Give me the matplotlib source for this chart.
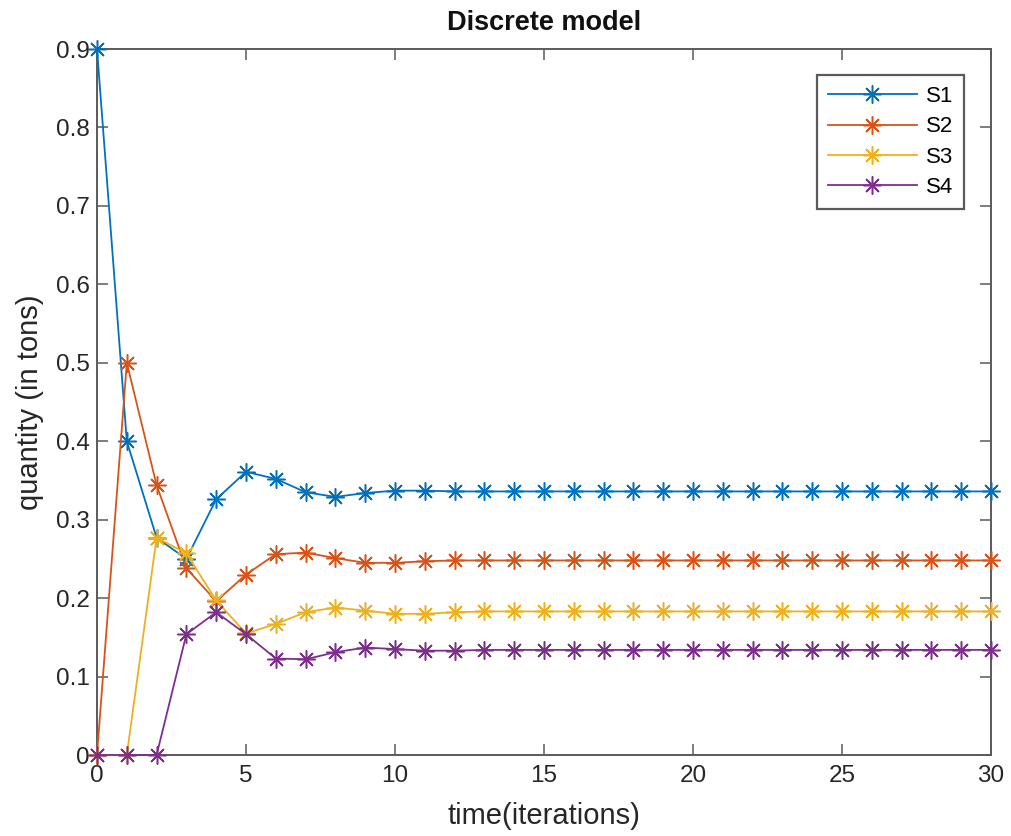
import numpy as np
import matplotlib
matplotlib.use('Agg')
from matplotlib import pyplot as plt

# iterations 0..30
t = list(range(31))

s1 = [0.900, 0.400, 0.277, 0.250, 0.326, 0.361, 0.352, 0.335, 0.329, 0.334, 0.337,
      0.337, 0.336, 0.336, 0.336, 0.336, 0.336, 0.336, 0.336, 0.336, 0.336,
      0.336, 0.336, 0.336, 0.336, 0.336, 0.336, 0.336, 0.336, 0.336, 0.336]
s2 = [0.000, 0.500, 0.344, 0.238, 0.196, 0.230, 0.256, 0.258, 0.251, 0.245, 0.245,
      0.247, 0.248, 0.248, 0.248, 0.248, 0.248, 0.248, 0.248, 0.248, 0.248,
      0.248, 0.248, 0.248, 0.248, 0.248, 0.248, 0.248, 0.248, 0.248, 0.248]
s3 = [0.000, 0.000, 0.277, 0.257, 0.197, 0.155, 0.167, 0.182, 0.188, 0.184, 0.180,
      0.180, 0.182, 0.183, 0.183, 0.183, 0.183, 0.183, 0.183, 0.183, 0.183,
      0.183, 0.183, 0.183, 0.183, 0.183, 0.183, 0.183, 0.183, 0.183, 0.183]
s4 = [0.000, 0.000, 0.000, 0.154, 0.182, 0.154, 0.123, 0.122, 0.131, 0.137, 0.135,
      0.133, 0.133, 0.134, 0.134, 0.134, 0.134, 0.134, 0.134, 0.134, 0.134,
      0.134, 0.134, 0.134, 0.134, 0.134, 0.134, 0.134, 0.134, 0.134, 0.134]

names = ['S1', 'S2', 'S3', 'S4']
colors = ['#0072BD', '#D95319', '#EDB120', '#7E2F8E']
yticklabels = ['0', '0.1', '0.2', '0.3', '0.4', '0.5', '0.6', '0.7', '0.8', '0.9']

plt.rcParams['font.family'] = ['Liberation Sans', 'DejaVu Sans']

fig = plt.figure(figsize=(10.11, 8.36), dpi=100)
ax = fig.add_axes([97/1011, 1 - 755/836, (991 - 97)/1011, (755 - 49)/836])

# matlab style asterisk: 4 strokes through the centre
star = (8, 2, 0)
for ys, name, c in zip([s1, s2, s3, s4], names, colors):
    ax.plot(t, ys, color=c, lw=1.3, marker=star, markersize=13,
            markeredgewidth=1.1, label=name, clip_on=False, zorder=3)

ax.set_xlim(0, 30)
ax.set_ylim(0, 0.9)
ax.set_xticks([0, 5, 10, 15, 20, 25, 30])
ax.set_yticks(np.arange(0, 0.91, 0.1))
ax.set_yticklabels(yticklabels)

axcol = '#5a5a5a'
for sp in ax.spines.values():
    sp.set_color(axcol)
    sp.set_linewidth(1.4)
ax.tick_params(direction='in', top=True, right=True, length=8, width=1.1,
               color=axcol, labelcolor='#262626', labelsize=17.5)
ax.tick_params(axis='x', pad=7)
ax.tick_params(axis='y', pad=5)

ax.set_title('Discrete model', fontsize=19.5, fontweight='bold', color='#111111', pad=14)
ax.set_xlabel('time(iterations)', fontsize=21, color='#262626', labelpad=11)
ax.set_ylabel('quantity (in tons)', fontsize=21, color='#262626', labelpad=9)

leg = ax.legend(loc='upper right', bbox_to_anchor=(964/1011, 1 - 75/836),
                bbox_transform=fig.transFigure, borderaxespad=0,
                fontsize=16, handlelength=4.0, handletextpad=0.4,
                fancybox=False, framealpha=1, borderpad=0.5, labelspacing=0.42)
leg.get_frame().set_edgecolor(axcol)
leg.get_frame().set_linewidth(1.6)

plt.savefig('out.png', dpi=100)
